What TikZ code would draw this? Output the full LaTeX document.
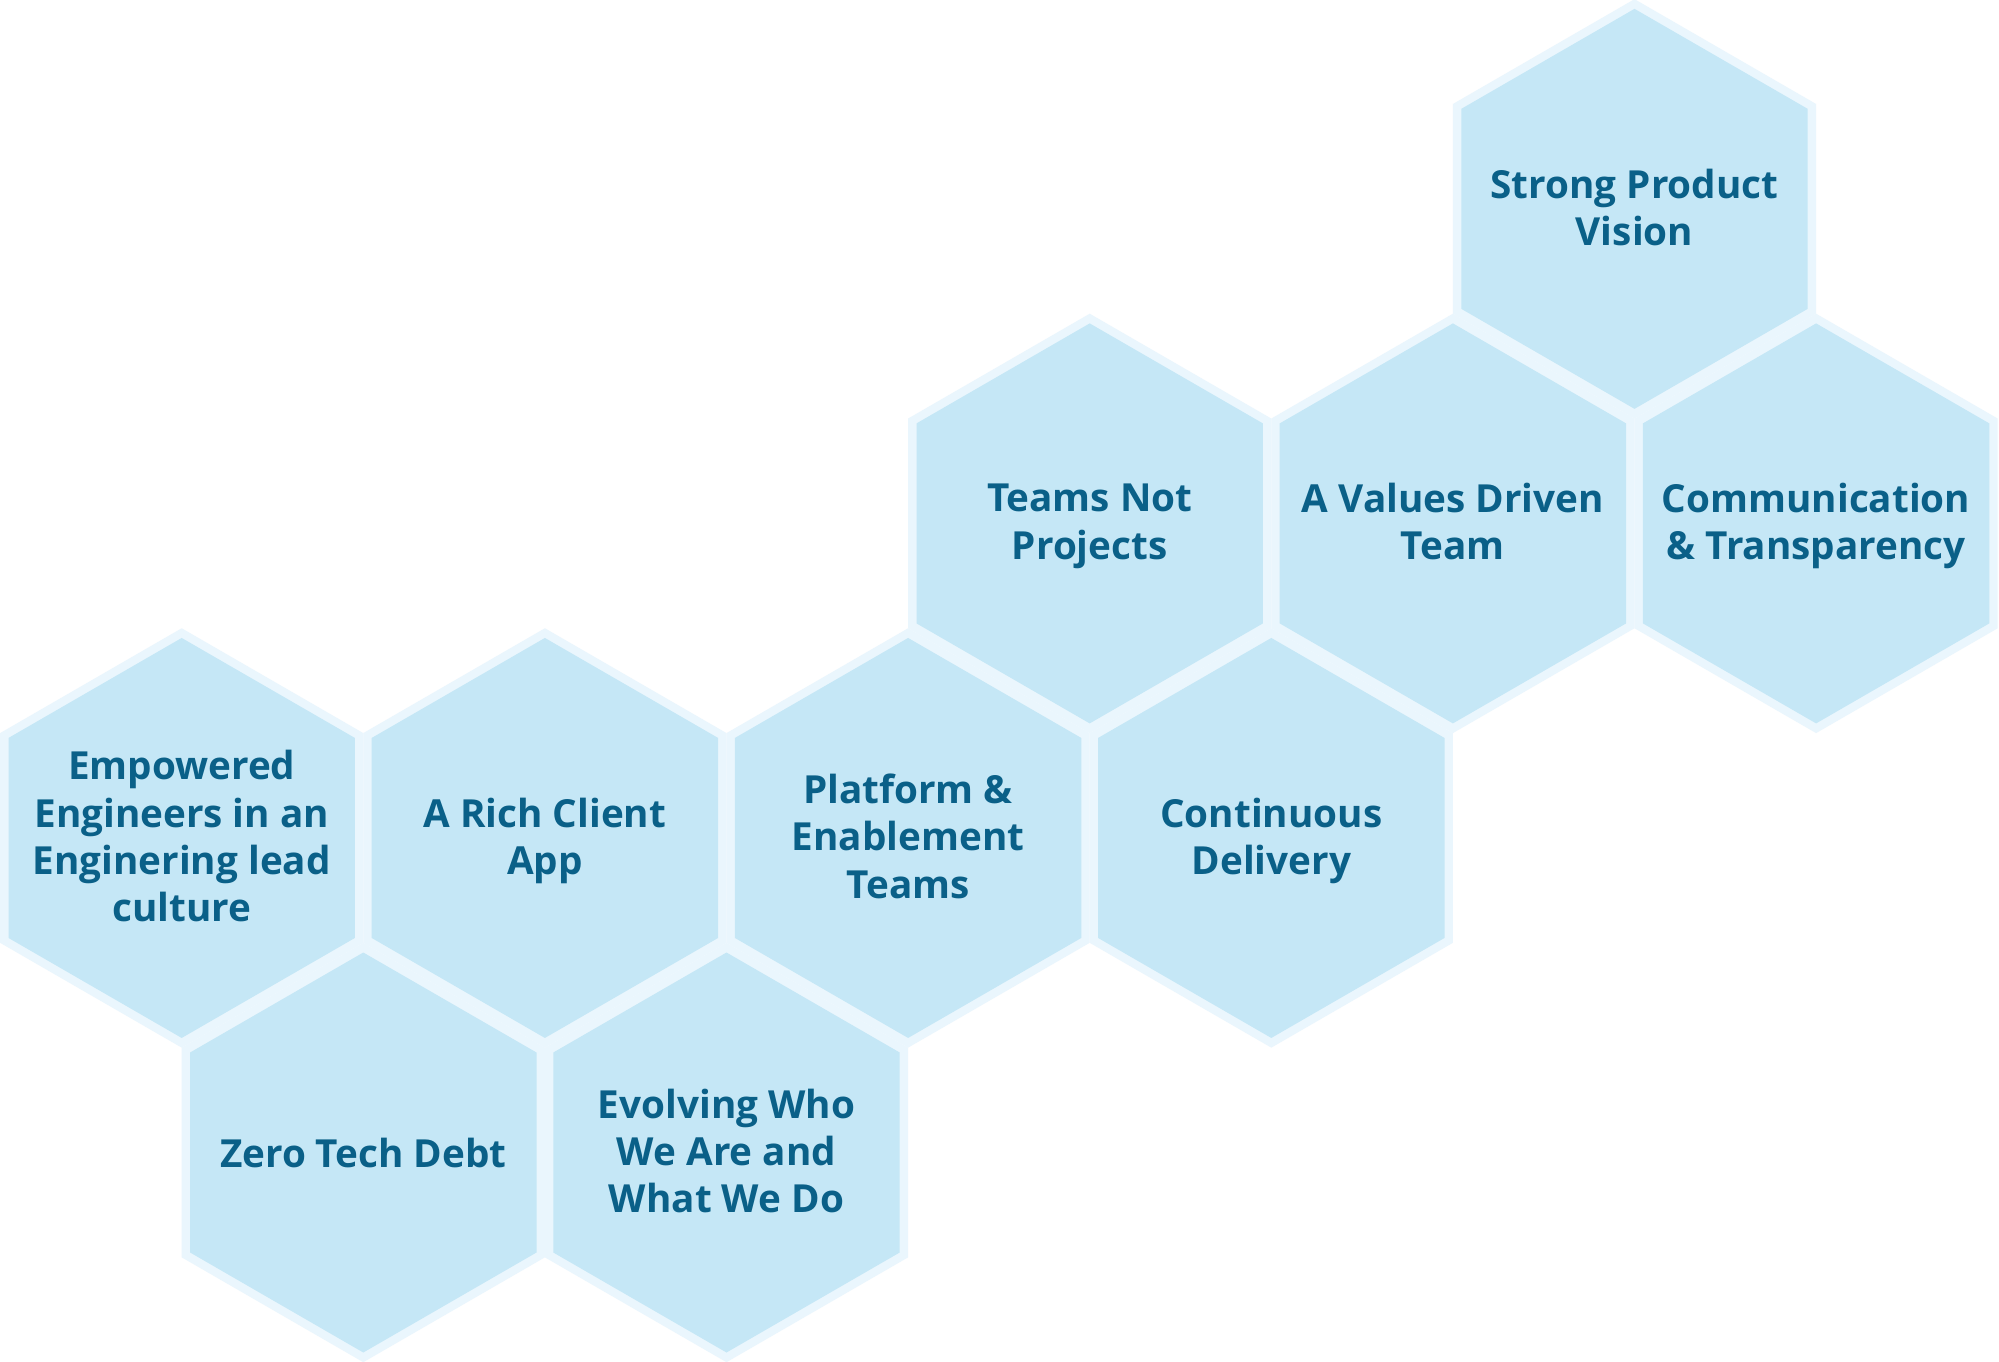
\documentclass[tikz,border=0pt]{standalone}
\usepackage{fontspec}
\setmainfont{Open Sans}
\usetikzlibrary{positioning}

\definecolor{hexfill}{RGB}{197,231,246}
\definecolor{hexedge}{RGB}{234,246,253}
\definecolor{hexink}{RGB}{10,96,136}

\begin{document}
\begin{tikzpicture}[x=0.75pt,y=0.75pt,yscale=-1,xscale=1,
  hexrim/.style={fill=hexedge},
  hexcell/.style={fill=hexfill},
  hextext/.style={text=hexink, align=center, inner sep=0.75pt, yshift=-4pt, font=\fontsize{29}{35.5}\selectfont\bfseries,
    execute at begin node=\strut, execute at end node=\strut}]
%set diagram size: 1999 x 1362
\useasboundingbox (0,0) rectangle (1999,1362);
\fill [white] (0,0) rectangle (1999,1362);

%Shape: Hexagon [Strong Product Vision]
\fill [hexrim] (1634.5,-0.85) -- (1816.1,104.0) -- (1816.1,313.7) -- (1634.5,418.55) -- (1452.9,313.7) -- (1452.9,104.0) -- cycle ;
\fill [hexcell] (1634.5,8.85) -- (1807.7,108.85) -- (1807.7,308.85) -- (1634.5,408.85) -- (1461.3,308.85) -- (1461.3,108.85) -- cycle ;
%Shape: Hexagon [Teams Not Projects]
\fill [hexrim] (1089.7,313.7) -- (1271.3,418.55) -- (1271.3,628.25) -- (1089.7,733.1) -- (908.1,628.25) -- (908.1,418.55) -- cycle ;
\fill [hexcell] (1089.7,323.4) -- (1262.9,423.4) -- (1262.9,623.4) -- (1089.7,723.4) -- (916.5,623.4) -- (916.5,423.4) -- cycle ;
%Shape: Hexagon [A Values Driven Team]
\fill [hexrim] (1452.9,313.7) -- (1634.5,418.55) -- (1634.5,628.25) -- (1452.9,733.1) -- (1271.3,628.25) -- (1271.3,418.55) -- cycle ;
\fill [hexcell] (1452.9,323.4) -- (1626.1,423.4) -- (1626.1,623.4) -- (1452.9,723.4) -- (1279.7,623.4) -- (1279.7,423.4) -- cycle ;
%Shape: Hexagon [Communication]
\fill [hexrim] (1816.1,313.7) -- (1997.7,418.55) -- (1997.7,628.25) -- (1816.1,733.1) -- (1634.5,628.25) -- (1634.5,418.55) -- cycle ;
\fill [hexcell] (1816.1,323.4) -- (1989.3,423.4) -- (1989.3,623.4) -- (1816.1,723.4) -- (1642.9,623.4) -- (1642.9,423.4) -- cycle ;
%Shape: Hexagon [Empowered Engineers]
\fill [hexrim] (181.7,628.25) -- (363.3,733.1) -- (363.3,942.8) -- (181.7,1047.65) -- (0.1,942.8) -- (0.1,733.1) -- cycle ;
\fill [hexcell] (181.7,637.95) -- (354.9,737.95) -- (354.9,937.95) -- (181.7,1037.95) -- (8.5,937.95) -- (8.5,737.95) -- cycle ;
%Shape: Hexagon [A Rich Client App]
\fill [hexrim] (544.9,628.25) -- (726.5,733.1) -- (726.5,942.8) -- (544.9,1047.65) -- (363.3,942.8) -- (363.3,733.1) -- cycle ;
\fill [hexcell] (544.9,637.95) -- (718.1,737.95) -- (718.1,937.95) -- (544.9,1037.95) -- (371.7,937.95) -- (371.7,737.95) -- cycle ;
%Shape: Hexagon [Platform]
\fill [hexrim] (908.1,628.25) -- (1089.7,733.1) -- (1089.7,942.8) -- (908.1,1047.65) -- (726.5,942.8) -- (726.5,733.1) -- cycle ;
\fill [hexcell] (908.1,637.95) -- (1081.3,737.95) -- (1081.3,937.95) -- (908.1,1037.95) -- (734.9,937.95) -- (734.9,737.95) -- cycle ;
%Shape: Hexagon [Continuous Delivery]
\fill [hexrim] (1271.3,628.25) -- (1452.9,733.1) -- (1452.9,942.8) -- (1271.3,1047.65) -- (1089.7,942.8) -- (1089.7,733.1) -- cycle ;
\fill [hexcell] (1271.3,637.95) -- (1444.5,737.95) -- (1444.5,937.95) -- (1271.3,1037.95) -- (1098.1,937.95) -- (1098.1,737.95) -- cycle ;
%Shape: Hexagon [Zero Tech Debt]
\fill [hexrim] (363.3,942.8) -- (544.9,1047.65) -- (544.9,1257.35) -- (363.3,1362.2) -- (181.7,1257.35) -- (181.7,1047.65) -- cycle ;
\fill [hexcell] (363.3,952.5) -- (536.5,1052.5) -- (536.5,1252.5) -- (363.3,1352.5) -- (190.1,1252.5) -- (190.1,1052.5) -- cycle ;
%Shape: Hexagon [Evolving]
\fill [hexrim] (726.5,942.8) -- (908.1,1047.65) -- (908.1,1257.35) -- (726.5,1362.2) -- (544.9,1257.35) -- (544.9,1047.65) -- cycle ;
\fill [hexcell] (726.5,952.5) -- (899.7,1052.5) -- (899.7,1252.5) -- (726.5,1352.5) -- (553.3,1252.5) -- (553.3,1052.5) -- cycle ;

% Text Node
\draw (1634.5,208.85) node (strong) [hextext] {Strong Product\\Vision};
% Text Node
\draw (1089.7,523.4) node (teams) [hextext] {Teams Not\\Projects};
% Text Node
\draw (1452.9,523.4) node (values) [hextext] {A Values Driven\\Team};
% Text Node
\draw (1816.1,523.4) node (comm) [hextext] {Communication\\\& Transparency};
% Text Node
\draw (181.7,837.95) node (empowered) [hextext] {Empowered\\Engineers in an\\Enginering lead\\culture};
% Text Node
\draw (544.9,837.95) node (richapp) [hextext] {A Rich Client\\App};
% Text Node
\draw (908.1,837.95) node (platform) [hextext] {Platform \&\\Enablement\\Teams};
% Text Node
\draw (1271.3,837.95) node (delivery) [hextext] {Continuous\\Delivery};
% Text Node
\draw (363.3,1152.5) node (zerodebt) [hextext] {Zero Tech Debt};
% Text Node
\draw (726.5,1152.5) node (evolving) [hextext] {Evolving Who\\We Are and\\What We Do};
\end{tikzpicture}
\end{document}
